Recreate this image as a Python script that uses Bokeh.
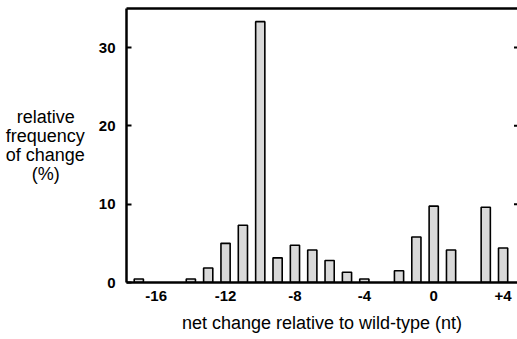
from bokeh.plotting import figure
from bokeh.models import FixedTicker, Range1d, ColumnDataSource, LinearAxis
from bokeh.embed import file_html
from bokeh.resources import INLINE

net_change = [-17, -14, -13, -12, -11, -10, -9, -8, -7, -6, -5, -4, -2, -1, 0, 1, 3, 4]
frequency = [0.45, 0.45, 1.85, 5.0, 7.3, 33.3, 3.15, 4.75, 4.15, 2.8, 1.3, 0.45, 1.5, 5.8, 9.75, 4.15, 9.6, 4.4]
x_ticks = [-16, -12, -8, -4, 0, 4]
x_tick_labels = ["-16", "-12", "-8", "-4", "0", "+4"]
y_ticks = [0, 10, 20, 30]
NB = "\u00a0"
# lines padded with no-break spaces so that the right-aligned axis label looks centred
y_title = "relative" + NB * 2 + "\nfrequency\nof change\n(%)" + NB * 5
x_title = "net change relative to wild-type (nt)"

X_START, X_END = -17.71, 4.83
Y_START, Y_END = 0, 34.98

source = ColumnDataSource(dict(x=net_change, top=frequency))

p = figure(width=517, height=339, output_backend="svg", toolbar_location=None,
           x_range=Range1d(X_START, X_END), y_range=Range1d(Y_START, Y_END),
           min_border_left=126, min_border_right=0, min_border_top=8, min_border_bottom=57)
p.outline_line_color = None
p.xgrid.visible = False
p.ygrid.visible = False
p.background_fill_color = "white"
p.border_fill_color = "white"

xa = p.below[0]
ya = p.left[0]

p.vbar(x="x", top="top", bottom=0, width=0.53, source=source,
       fill_color="#d9d9d9", line_color="black", line_width=1.6)

# inward tick marks on the right edge (frame edge = window edge)
right_ticks = ColumnDataSource(dict(x=[X_END] * (len(y_ticks) - 1), y=y_ticks[1:]))
p.scatter(x="x", y="y", source=right_ticks, marker="dash", size=7,
          line_color="black", line_width=2)

# top frame line
top_axis = LinearAxis(ticker=FixedTicker(ticks=[]), major_tick_out=0, major_tick_in=0,
                      minor_tick_out=0, minor_tick_in=0, major_label_standoff=0,
                      axis_line_width=2.5, axis_line_color="black")
p.add_layout(top_axis, "above")

FONT = "Liberation Sans"

xa.ticker = FixedTicker(ticks=x_ticks)
xa.major_label_overrides = {t: l for t, l in zip(x_ticks, x_tick_labels)}
xa.major_tick_out = 0
xa.major_tick_in = 0
xa.minor_tick_out = 0
xa.minor_tick_in = 0
xa.axis_line_width = 2.5
xa.axis_line_color = "black"
xa.major_label_text_font = FONT
xa.major_label_text_font_style = "bold"
xa.major_label_text_font_size = "15px"
xa.major_label_text_color = "black"
xa.major_label_standoff = 8
xa.axis_label = x_title
xa.axis_label_text_font = FONT
xa.axis_label_text_font_style = "normal"
xa.axis_label_text_font_size = "18px"
xa.axis_label_text_color = "black"
xa.axis_label_standoff = 9

ya.ticker = FixedTicker(ticks=y_ticks)
ya.major_tick_out = 0
ya.major_tick_in = 5
ya.major_tick_line_width = 2
ya.minor_tick_out = 0
ya.minor_tick_in = 0
ya.axis_line_width = 2.5
ya.axis_line_color = "black"
ya.major_label_text_font = FONT
ya.major_label_text_font_style = "bold"
ya.major_label_text_font_size = "15px"
ya.major_label_text_color = "black"
ya.major_label_standoff = 11
ya.axis_label = y_title
ya.axis_label_orientation = "horizontal"
ya.axis_label_text_font = FONT
ya.axis_label_text_font_style = "normal"
ya.axis_label_text_font_size = "18px"
ya.axis_label_text_line_height = 0.95
ya.axis_label_text_color = "black"
ya.axis_label_standoff = 11

open("out.html", "w").write(file_html(p, INLINE))
